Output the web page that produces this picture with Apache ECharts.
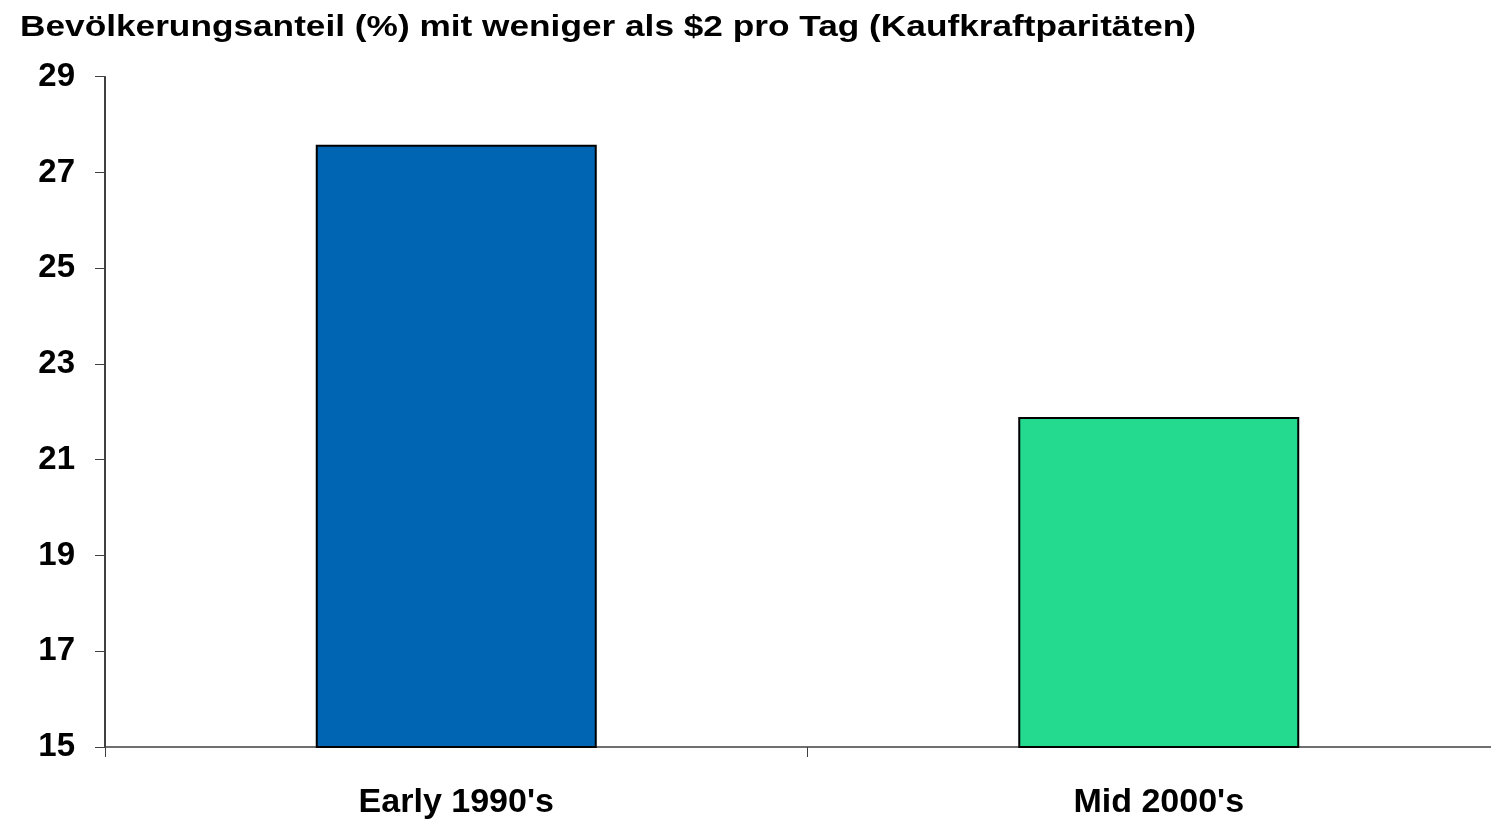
<!DOCTYPE html>
<html>
<head>
<meta charset="utf-8">
<script src="https://cdn.jsdelivr.net/npm/echarts@6/dist/echarts.min.js"></script>
<style>
html,body{margin:0;padding:0;background:#fff;overflow:hidden;width:1491px;height:820px;}
#chart{width:1510px;height:820px;}
</style>
</head>
<body>
<div id="chart"></div>
<script>
const titleText = "Bevölkerungsanteil (%) mit weniger als $2 pro Tag (Kaufkraftparitäten)";
const categories = ["Early 1990's", "Mid 2000's"];
const values = [27.58, 21.89];
const barColors = ["#0066B3", "#24DA8E"];
const yTicks = [15, 17, 19, 21, 23, 25, 27, 29];

const chart = echarts.init(document.getElementById('chart'), null, {renderer: 'canvas'});
chart.setOption({
  animation: false,
  backgroundColor: '#ffffff',
  graphic: [{
    type: 'text',
    x: 20, y: 28,
    scaleX: 1.215,
    style: {
      text: titleText,
      font: 'bold 29px "Liberation Sans"',
      fill: '#000',
      textVerticalAlign: 'middle',
      verticalAlign: 'middle'
    }
  }],
  grid: {left: 105, right: 0, top: 76.7, bottom: 72.3, containLabel: false},
  xAxis: {
    type: 'category',
    data: categories,
    boundaryGap: true,
    axisLine: {show: true, lineStyle: {color: '#404040', width: 1.5}},
    axisTick: {show: true, length: 10, alignWithLabel: false, lineStyle: {color: '#404040', width: 1}},
    axisLabel: {fontFamily: 'Liberation Sans', fontWeight: 'bold', fontSize: 34, color: '#000', margin: 39}
  },
  yAxis: {
    type: 'value',
    min: yTicks[0], max: yTicks[yTicks.length - 1], interval: 2,
    splitLine: {show: false},
    axisLine: {show: true, lineStyle: {color: '#000', width: 1.5}},
    axisTick: {show: true, length: 10, lineStyle: {color: '#404040', width: 1}},
    axisLabel: {fontFamily: 'Liberation Sans', fontWeight: 'bold', fontSize: 33, color: '#000', margin: 30}
  },
  series: [{
    type: 'bar',
    barWidth: '40%',
    data: values.map((v, i) => ({value: v, itemStyle: {color: barColors[i]}})),
    itemStyle: {borderColor: '#000', borderWidth: 2}
  }]
});
</script>
</body>
</html>
